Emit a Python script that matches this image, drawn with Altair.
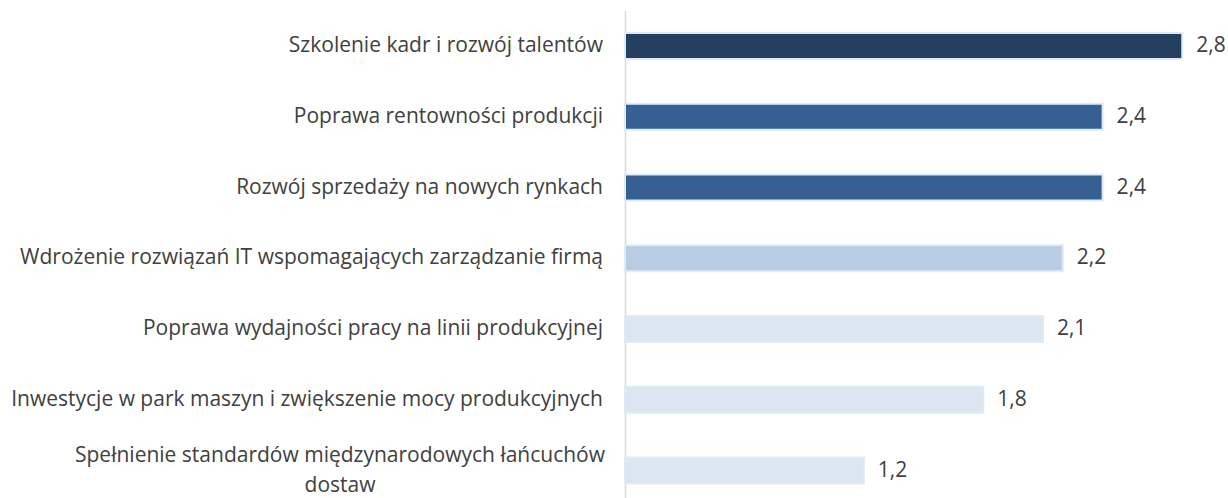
import altair as alt
import pandas as pd

categories = [
    "Szkolenie kadr i rozwój talentów",
    "Poprawa rentowności produkcji",
    "Rozwój sprzedaży na nowych rynkach",
    "Wdrożenie rozwiązań IT wspomagających zarządzanie firmą",
    "Poprawa wydajności pracy na linii produkcyjnej",
    "Inwestycje w park maszyn i zwiększenie mocy produkcyjnych",
    "Spełnienie standardów międzynarodowych łańcuchów\ndostaw",
]
values = [2.8, 2.4, 2.4, 2.2, 2.1, 1.8, 1.2]
colors = ["#243F60", "#366092", "#366092", "#B8CCE4", "#DCE6F1", "#DCE6F1", "#DCE6F1"]

df = pd.DataFrame({"cat": categories, "v": values, "idx": list(range(len(values)))})

FONT = "Open Sans"
FS = 21
TXT = "#404040"

y_enc = alt.Y(
    "cat:N",
    sort=categories,
    scale=alt.Scale(range=[0.6, 496], paddingInner=0, paddingOuter=0),
    axis=alt.Axis(labels=False, ticks=False, title=None, domainColor="#D9D9D9", domainWidth=1.5),
)
x_enc = alt.X("v:Q", scale=alt.Scale(domain=[0, 3.03]), axis=None)

base = alt.Chart(df)

bars = base.mark_bar(size=26, stroke="#DDEBF7", strokeWidth=2).encode(
    x=x_enc,
    y=y_enc,
    color=alt.Color("cat:N", scale=alt.Scale(domain=categories, range=colors), legend=None),
)

vals = base.transform_calculate(
    lbl="replace(format(datum.v, '.1f'), '.', ',')"
).mark_text(align="left", baseline="middle", dx=14, font=FONT, fontSize=FS, color=TXT).encode(
    x=x_enc, y=y_enc, text="lbl:N"
)

single = base.transform_filter("datum.idx < 6").mark_text(
    align="right", baseline="middle", font=FONT, fontSize=FS, color=TXT
).encode(x=alt.value(-22), y=y_enc, text="cat:N")

multi = base.transform_filter("datum.idx == 6").mark_text(
    align="center", baseline="middle", font=FONT, fontSize=FS, color=TXT,
    lineBreak="\n", lineHeight=30, dy=-15
).encode(x=alt.value(-285), y=y_enc, text="cat:N")

chart = alt.layer(bars, vals, single, multi).properties(
    width=603,
    height=488,
    padding={"left": 625, "top": 10, "right": 0, "bottom": 0},
    autosize=alt.AutoSizeParams(type="none"),
).configure_view(stroke=None)

chart.save("out.html", embed_options={"renderer": "svg", "actions": False})
